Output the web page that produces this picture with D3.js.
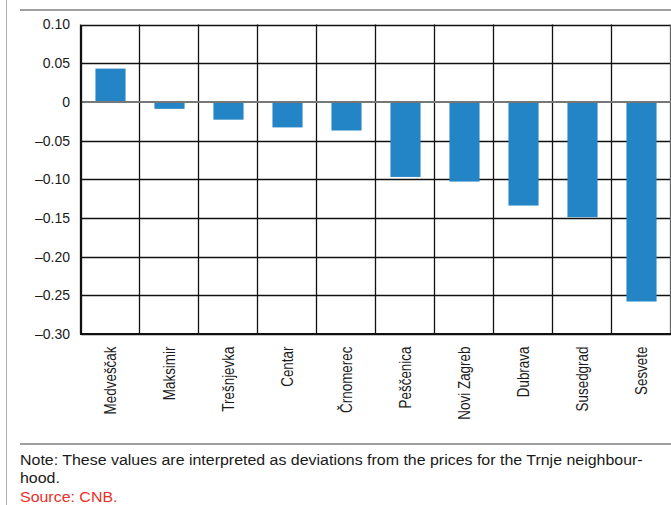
<!DOCTYPE html>
<html>
<head>
<meta charset="utf-8">
<script src="https://cdn.jsdelivr.net/npm/d3@7"></script>
<style>
  html, body { margin: 0; padding: 0; background: #fff; }
  svg { display: block; }
  text { font-family: "Liberation Sans", Arial, sans-serif; fill: #1a1a1a; }
</style>
</head>
<body>
<svg id="chart" width="671" height="505"></svg>
<script>
const categories = ["Medveščak", "Maksimir", "Trešnjevka", "Centar", "Črnomerec",
                    "Peščenica", "Novi Zagreb", "Dubrava", "Susedgrad", "Sesvete"];
const values = [0.043, -0.009, -0.023, -0.033, -0.037, -0.097, -0.103, -0.134, -0.149, -0.258];
const yTicks = [0.10, 0.05, 0, -0.05, -0.10, -0.15, -0.20, -0.25, -0.30];
const noteLines = ["Note: These values are interpreted as deviations from the prices for the Trnje neighbour-", "hood."];
const sourceText = "Source: CNB.";

const svg = d3.select("#chart");

// frame lines
svg.append("line").attr("x1", 6.5).attr("x2", 6.5).attr("y1", 0).attr("y2", 505)
  .attr("stroke", "#b0b0b0").attr("stroke-width", 1);
svg.append("line").attr("x1", 20).attr("x2", 671).attr("y1", 10).attr("y2", 10)
  .attr("stroke", "#808080").attr("stroke-width", 1.5);
svg.append("line").attr("x1", 20).attr("x2", 671).attr("y1", 444).attr("y2", 444)
  .attr("stroke", "#808080").attr("stroke-width", 1.5);

const x = d3.scaleBand().domain(categories).range([81, 671]).padding(0);
const y = d3.scaleLinear().domain([-0.30, 0.10]).range([334, 24.5]);

const fmt = v => v === 0 ? "0" : (v < 0 ? "\u2013" : "") + Math.abs(v).toFixed(2);

// horizontal gridlines
svg.append("g").selectAll("line").data(yTicks.filter(t => t !== 0)).join("line")
  .attr("x1", 81).attr("x2", 671)
  .attr("y1", d => Math.round(y(d)) + 0.5).attr("y2", d => Math.round(y(d)) + 0.5)
  .attr("stroke", "#111").attr("stroke-width", 1.3);

// vertical gridlines (band boundaries)
const bounds = categories.map(c => x(c)).concat([x.range()[1]]);
svg.append("g").selectAll("line").data(bounds).join("line")
  .attr("x1", d => Math.round(d) - 0.5).attr("x2", d => Math.round(d) - 0.5)
  .attr("y1", y(0.10)).attr("y2", y(-0.30))
  .attr("stroke", (d, i) => i === bounds.length - 1 ? "#666" : "#111").attr("stroke-width", 1.3);

// bars
const bw = x.bandwidth() * 0.51;
svg.append("g").selectAll("rect").data(values).join("rect")
  .attr("x", (d, i) => x(categories[i]) + (x.bandwidth() - bw) / 2)
  .attr("y", d => y(Math.max(0, d)))
  .attr("width", bw)
  .attr("height", d => Math.abs(y(d) - y(0)))
  .attr("fill", "#2384c6");

// zero line
svg.append("line").attr("x1", 81).attr("x2", 671).attr("y1", y(0)).attr("y2", y(0))
  .attr("stroke", "#777").attr("stroke-width", 2);

// bottom axis line
svg.append("line").attr("x1", 80).attr("x2", 671).attr("y1", y(-0.30)).attr("y2", y(-0.30))
  .attr("stroke", "#111").attr("stroke-width", 1.8);

// y axis labels
const yAxis = d3.axisLeft(y).tickValues(yTicks).tickFormat(fmt).tickSize(0).tickPadding(11);
const gy = svg.append("g").attr("transform", "translate(81,0)").call(yAxis);
gy.select(".domain").attr("stroke", "#111").attr("stroke-width", 1.3);
gy.selectAll("text").attr("font-size", 14).attr("font-family", "'Liberation Sans', Arial, sans-serif").attr("fill", "#1a1a1a");

// category labels (condensed look)
svg.append("g").selectAll("text").data(categories).join("text")
  .attr("transform", d => `translate(${x(d) + x.bandwidth() / 2},346.5) rotate(-90) scale(0.96,1.12)`)
  .attr("text-anchor", "end")
  .attr("dy", "0.36em")
  .attr("font-size", 14)
  .text(d => d);

// note
const note = svg.append("g").attr("transform", "translate(20,0) scale(1.1,1)");
note.selectAll("text.note").data(noteLines).join("text")
  .attr("class", "note")
  .attr("x", 0).attr("y", (d, i) => 465 + i * 18.5)
  .attr("font-size", 14.5)
  .text(d => d);
note.append("text").attr("x", 0).attr("y", 502.5)
  .attr("font-size", 14.5).style("fill", "#e8302a").text(sourceText);
</script>
</body>
</html>
